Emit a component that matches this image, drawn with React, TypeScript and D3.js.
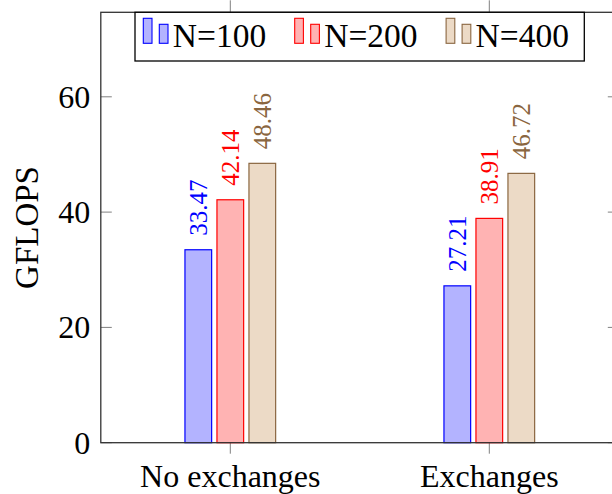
import React from "react";
import * as d3 from "d3";

// Data
const categories = ["No exchanges", "Exchanges"];
const seriesNames = ["N=100", "N=200", "N=400"];
const n100 = [33.47, 27.21];
const n200 = [42.14, 38.91];
const n400 = [48.46, 46.72];
const yTicks = [0, 20, 40, 60];

const seriesValues = [n100, n200, n400];
const strokes = ["#0000ff", "#ff0000", "#8a6640"];
const fills = ["#b3b3ff", "#ffb3b3", "#ecdac6"];

const W = 612;
const H = 494;
const left = 100.8;
const right = 618.8;
const top = 12.3;
const bottom = 442.7;
const FONT = "'Liberation Serif', serif";

export default function App() {
  const x = d3.scaleLinear().domain([-0.5, categories.length - 0.5]).range([left, right]);
  const y = d3.scaleLinear().domain([0, 74.66]).range([bottom, top]);
  const inner = d3
    .scaleBand<string>()
    .domain(seriesNames)
    .range([-48, 48])
    .paddingInner(0.166)
    .paddingOuter(0.083);
  const bw = inner.bandwidth();

  return (
    <svg
      width={W}
      height={H}
      style={{ position: "absolute", left: 0, top: 0, background: "#fff" }}
      fontFamily={FONT}
    >
      {/* y ticks (inside, both sides) */}
      {yTicks.map((t) => (
        <g key={"yt" + t}>
          <line x1={left} x2={left + 11} y1={y(t)} y2={y(t)} stroke="#808080" strokeWidth={1} />
          <line x1={right - 11} x2={right} y1={y(t)} y2={y(t)} stroke="#808080" strokeWidth={1} />
          <text x={left - 10.5} y={y(t)} dy="0.34em" textAnchor="end" fontSize={32} fill="#000">
            {t}
          </text>
        </g>
      ))}

      {/* x ticks (outside, top and bottom) */}
      {categories.map((c, i) => (
        <g key={"xt" + c}>
          <line x1={x(i)} x2={x(i)} y1={bottom} y2={bottom + 11} stroke="#808080" strokeWidth={1} />
          <line x1={x(i)} x2={x(i)} y1={top} y2={top - 12} stroke="#808080" strokeWidth={1} />
          <text x={x(i)} y={487} textAnchor="middle" fontSize={32} fill="#000">
            {c}
          </text>
        </g>
      ))}

      {/* bars */}
      {seriesValues.map((vals, s) =>
        vals.map((v, i) => {
          const bx = x(i) + (inner(seriesNames[s]) as number);
          return (
            <rect
              key={`b${s}-${i}`}
              x={bx}
              y={y(v)}
              width={bw}
              height={y(0) - y(v)}
              fill={fills[s]}
              stroke={strokes[s]}
              strokeWidth={1.2}
            />
          );
        })
      )}

      {/* value labels */}
      {seriesValues.map((vals, s) =>
        vals.map((v, i) => {
          const cx = x(i) + (inner(seriesNames[s]) as number) + bw / 2;
          return (
            <text
              key={`l${s}-${i}`}
              transform={`translate(${cx},${y(v) - 14}) rotate(-90)`}
              dy="0.34em"
              textAnchor="start"
              fontSize={25}
              fill={strokes[s]}
            >
              {v.toFixed(2)}
            </text>
          );
        })
      )}

      {/* axis frame */}
      <rect
        x={left}
        y={top}
        width={right - left}
        height={bottom - top}
        fill="none"
        stroke="#333"
        strokeWidth={1.3}
      />

      {/* y axis title */}
      <text
        transform={`translate(38,${(top + bottom) / 2}) rotate(-90)`}
        textAnchor="middle"
        fontSize={33}
        fill="#000"
      >
        GFLOPS
      </text>

      {/* legend */}
      <g>
        <rect x={135} y={top} width={449.3} height={61 - top} fill="#fff" stroke="#000" strokeWidth={1.3} />
        {seriesNames.map((name, s) => {
          const ox = 143.3 + s * 151.4;
          return (
            <g key={"lg" + name}>
              <rect x={ox} y={18.3} width={8.7} height={25} fill={fills[s]} stroke={strokes[s]} strokeWidth={1.1} />
              <rect x={ox + 16} y={24.3} width={8.7} height={19} fill={fills[s]} stroke={strokes[s]} strokeWidth={1.1} />
              <text x={ox + 29.5} y={46.7} fontSize={33.5} fill="#000">
                {name}
              </text>
            </g>
          );
        })}
      </g>
    </svg>
  );
}
